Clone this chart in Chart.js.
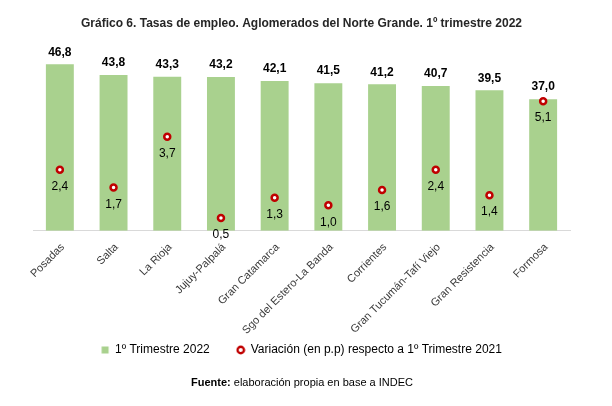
<!DOCTYPE html>
<html>
<head>
<meta charset="utf-8">
<script src="https://cdn.jsdelivr.net/npm/chart.js@4"></script>
<style>
html,body{margin:0;padding:0;background:#fff;}
#wrap{position:relative;width:612px;height:406px;}
#src{position:absolute;left:0;width:604px;top:376px;text-align:center;font:11px "Liberation Sans",Arial,sans-serif;color:#000;}
</style>
</head>
<body>
<div id="wrap"><canvas id="c" width="612" height="406"></canvas>
<div id="src"><b>Fuente:</b> elaboración propia en base a INDEC</div></div>
<script>
const categories = ["Posadas","Salta","La Rioja","Jujuy-Palpalá","Gran Catamarca","Sgo del Estero-La Banda","Corrientes","Gran Tucumán-Tafí Viejo","Gran Resistencia","Formosa"];
const tasa2022 = [46.8,43.8,43.3,43.2,42.1,41.5,41.2,40.7,39.5,37.0];
const variacion = [2.4,1.7,3.7,0.5,1.3,1.0,1.6,2.4,1.4,5.1];

const GREEN = '#A9D18E', RED = '#C00000';
const FONT = '"Liberation Sans", Arial, sans-serif';

function mkIcon(kind){
  const c = document.createElement('canvas'); c.width = 10; c.height = 10;
  const x = c.getContext('2d');
  if(kind==='rect'){ x.fillStyle = GREEN; x.fillRect(1.5,1.5,7,7); }
  else { x.beginPath(); x.arc(5,5,3.2,0,Math.PI*2); x.fillStyle='#fff'; x.fill(); x.lineWidth=2.4; x.strokeStyle=RED; x.stroke(); }
  return c;
}
const icons = [mkIcon('rect'), mkIcon('ring')];
const fmt = v => v.toFixed(1).replace('.', ',');

const labelPlugin = {
  id:'labels',
  beforeDraw(chart){ chart.scales.x._computeLabelArea = () => undefined; },
  afterDatasetsDraw(chart){
    const ctx = chart.ctx;
    ctx.save();
    ctx.textAlign='center'; ctx.textBaseline='middle';
    const m0 = chart.getDatasetMeta(0);
    ctx.font = 'bold 12px '+FONT; ctx.fillStyle='#000';
    m0.data.forEach((el,i)=>{ ctx.fillText(fmt(tasa2022[i]), el.x, el.y-12); });
    const m1 = chart.getDatasetMeta(1);
    ctx.font = '12px '+FONT; ctx.fillStyle='#000';
    m1.data.forEach((el,i)=>{ ctx.fillText(fmt(variacion[i]), el.x, el.y+17); });
    ctx.restore();
  }
};

new Chart(document.getElementById('c'), {
  data:{
    labels: categories,
    datasets:[
      {type:'bar', label:'1º Trimestre 2022', data:tasa2022, backgroundColor:GREEN, yAxisID:'y', categoryPercentage:1, barPercentage:0.52, order:2},
      {type:'line', label:'Variación (en p.p) respecto a 1º Trimestre 2021', data:variacion, yAxisID:'y1', showLine:false,
       pointRadius:3, pointBorderWidth:2.5, pointBackgroundColor:'#fff', pointBorderColor:RED, borderColor:RED, backgroundColor:'#fff', order:1}
    ]
  },
  options:{
    responsive:false, animation:false,
    layout:{padding:{left:33,right:42,top:0,bottom:40}},
    scales:{
      x:{grid:{display:false, drawTicks:false}, border:{display:true,color:'#D9D9D9',width:1},
         afterFit(scale){ scale.height = scale.height - 30; },
         ticks:{minRotation:45,maxRotation:45,autoSkip:false,padding:10,labelOffset:3,color:'#3a3a3a',font:{size:11,family:FONT}}},
      y:{display:false,min:0,max:50},
      y1:{display:false,min:0,max:7,position:'right'}
    },
    plugins:{
      title:{display:true,text:'Gráfico 6. Tasas de empleo. Aglomerados del Norte Grande. 1º trimestre 2022',
        color:'#262626',font:{size:12,weight:'bold',family:FONT},padding:{top:16,bottom:22.5}},
      legend:{position:'bottom',labels:{usePointStyle:true,boxWidth:8,boxHeight:8,padding:27,color:'#000',font:{size:12,family:FONT},
        generateLabels(chart){ return chart.data.datasets.map((d,i)=>({text:d.label,pointStyle:icons[i],datasetIndex:i,fillStyle:'#fff',strokeStyle:'#fff',lineWidth:0,fontColor:'#000'})); }}},
      tooltip:{enabled:false}
    }
  },
  plugins:[labelPlugin]
});
</script>
</body>
</html>
